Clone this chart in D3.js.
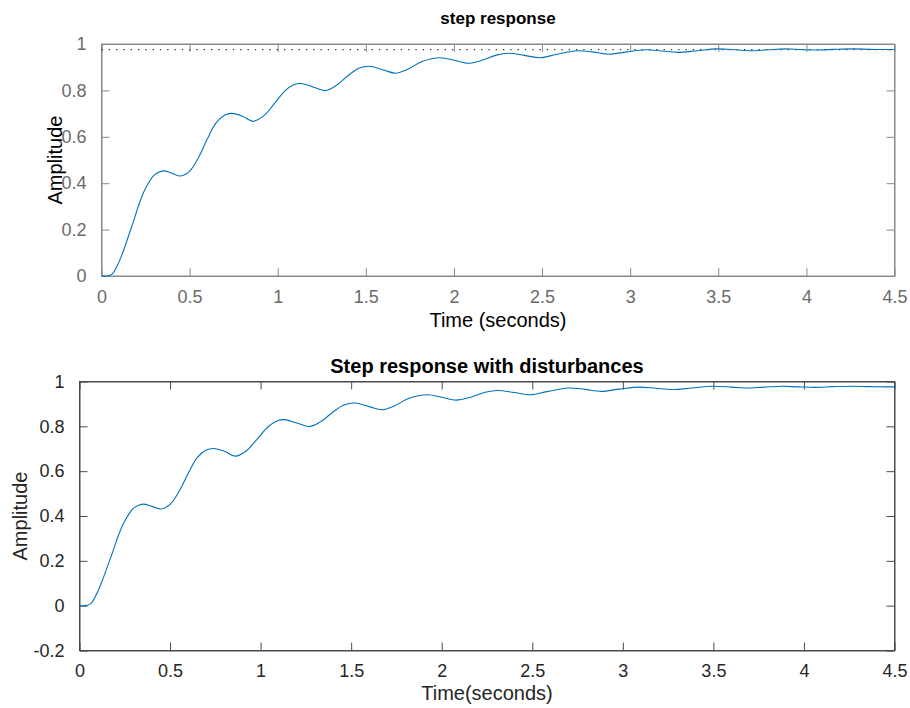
<!DOCTYPE html>
<html>
<head>
<meta charset="utf-8">
<script src="https://cdn.jsdelivr.net/npm/d3@7"></script>
<style>
  html, body { margin: 0; padding: 0; background: #fff; }
  svg { display: block; font-family: "Liberation Sans", Arial, Helvetica, sans-serif; }
</style>
</head>
<body>
<svg id="chart" width="910" height="708"></svg>
<script>
// ---- data ----
const time = [0, 0.03, 0.06, 0.09, 0.12, 0.15, 0.18, 0.21, 0.24, 0.27, 0.30, 0.35, 0.40, 0.45,
  0.50, 0.55, 0.60, 0.65, 0.70, 0.74, 0.80, 0.86, 0.92, 0.98, 1.04, 1.09, 1.13, 1.20, 1.27,
  1.33, 1.40, 1.46, 1.52, 1.60, 1.67, 1.74, 1.82, 1.92, 2.00, 2.08, 2.16, 2.24, 2.31, 2.40,
  2.49, 2.58, 2.70, 2.79, 2.88, 2.98, 3.09, 3.18, 3.27, 3.38, 3.49, 3.60, 3.68, 3.78, 3.88,
  3.97, 4.06, 4.16, 4.27, 4.36, 4.45, 4.50];
const amplitude = [0, 0.000, 0.008, 0.045, 0.100, 0.165, 0.232, 0.303, 0.362, 0.405, 0.436, 0.453, 0.443, 0.431,
  0.452, 0.510, 0.590, 0.660, 0.694, 0.701, 0.689, 0.667, 0.690, 0.742, 0.797, 0.824, 0.830, 0.815, 0.799,
  0.820, 0.864, 0.895, 0.904, 0.888, 0.874, 0.892, 0.925, 0.941, 0.930, 0.917, 0.930, 0.952, 0.960, 0.951,
  0.941, 0.955, 0.971, 0.965, 0.956, 0.966, 0.975, 0.970, 0.964, 0.971, 0.979, 0.975, 0.971, 0.975, 0.979,
  0.976, 0.974, 0.977, 0.979, 0.977, 0.976, 0.976];
// disturbed response (visually identical to the step response)
const amplitudeDist = amplitude.slice();
const steadyState = 0.976;

const xTicks = [0, 0.5, 1, 1.5, 2, 2.5, 3, 3.5, 4, 4.5];
const yTicksTop = [0, 0.2, 0.4, 0.6, 0.8, 1];
const yTicksBottom = [-0.2, 0, 0.2, 0.4, 0.6, 0.8, 1];

const titles = ["step response", "Step response with disturbances"];
const xLabels = ["Time (seconds)", "Time(seconds)"];
const yLabel = "Amplitude";

// ---- drawing ----
const svg = d3.select("#chart");
const lineColor = "#0072BD";

function fmt(d) { return String(d); }

function panel(cfg) {
  const g = svg.append("g");
  const x = d3.scaleLinear().domain([0, 4.5]).range([cfg.left, cfg.right]);
  const y = d3.scaleLinear().domain(cfg.ydom).range([cfg.bottom, cfg.top]);
  const tl = 8;

  g.append("rect").attr("x", cfg.left).attr("y", cfg.top)
    .attr("width", cfg.right - cfg.left).attr("height", cfg.bottom - cfg.top)
    .attr("fill", "none").attr("stroke", cfg.axisColor).attr("stroke-width", 1);

  const ax = [
    [d3.axisBottom(x).tickValues(xTicks).tickFormat(fmt).tickSizeInner(-tl).tickSizeOuter(0).tickPadding(14), `translate(0,${cfg.bottom})`],
    [d3.axisTop(x).tickValues(xTicks).tickFormat("").tickSizeInner(-tl).tickSizeOuter(0), `translate(0,${cfg.top})`],
    [d3.axisLeft(y).tickValues(cfg.yticks).tickFormat(fmt).tickSizeInner(-tl).tickSizeOuter(0).tickPadding(15), `translate(${cfg.left},0)`],
    [d3.axisRight(y).tickValues(cfg.yticks).tickFormat("").tickSizeInner(-tl).tickSizeOuter(0), `translate(${cfg.right},0)`]
  ];
  ax.forEach(([a, tr]) => {
    const ag = g.append("g").attr("transform", tr).call(a);
    ag.select(".domain").attr("stroke", cfg.axisColor);
    ag.selectAll(".tick line").attr("stroke", cfg.axisColor);
    ag.selectAll(".tick text").attr("fill", cfg.tickColor)
      .style("font-size", "18px").style("font-family", "'Liberation Sans', Arial, sans-serif");
  });

  if (cfg.steady != null) {
    g.append("line").attr("x1", cfg.left).attr("x2", cfg.right)
      .attr("y1", y(cfg.steady)).attr("y2", y(cfg.steady))
      .attr("stroke", "#333").attr("stroke-width", 1.3).attr("stroke-dasharray", "1.3,6");
  }

  const pts = time.map((t, i) => [t, cfg.values[i]]);
  const line = d3.line().x(d => x(d[0])).y(d => y(d[1])).curve(d3.curveCatmullRom.alpha(0.5));
  g.append("path").datum(pts).attr("d", line)
    .attr("fill", "none").attr("stroke", lineColor).attr("stroke-width", 1.1);

  g.append("text").attr("x", (cfg.left + cfg.right) / 2).attr("y", cfg.titleY)
    .attr("text-anchor", "middle").attr("font-weight", "bold")
    .style("font-size", cfg.titleSize + "px").attr("fill", "#000").text(cfg.title);
  g.append("text").attr("x", (cfg.left + cfg.right) / 2).attr("y", cfg.xlabelY)
    .attr("text-anchor", "middle").style("font-size", "20px").attr("fill", cfg.labelColor).text(cfg.xlabel);
  g.append("text").attr("transform", `translate(${cfg.ylabelX},${(cfg.top + cfg.bottom) / 2}) rotate(-90)`)
    .attr("text-anchor", "middle").style("font-size", "20px").attr("fill", cfg.labelColor).text(yLabel);
}

panel({
  left: 101.5, right: 894.5, top: 44, bottom: 276, ydom: [0, 1], yticks: yTicksTop,
  values: amplitude, steady: steadyState, axisColor: "#8a8a8a", tickColor: "#6b6b6b", labelColor: "#000",
  title: titles[0], titleY: 24, titleSize: 17, xlabel: xLabels[0], xlabelY: 327, ylabelX: 62
});
panel({
  left: 79.5, right: 894.5, top: 381.5, bottom: 650.5, ydom: [-0.2, 1], yticks: yTicksBottom,
  values: amplitudeDist, steady: null, axisColor: "#4a4a4a", tickColor: "#262626", labelColor: "#262626",
  title: titles[1], titleY: 373, titleSize: 20, xlabel: xLabels[1], xlabelY: 700, ylabelX: 27
});
</script>
</body>
</html>
